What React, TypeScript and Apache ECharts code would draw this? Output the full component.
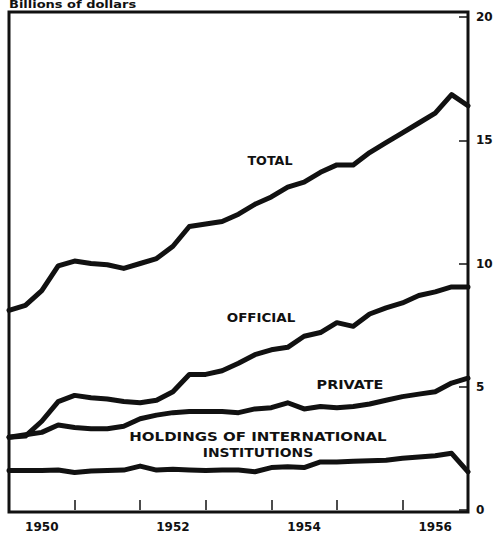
import React, { useEffect, useRef } from "react";
import * as echarts from "echarts";

// Quarter-end dates (years), end of 1949 through end of 1956
const quarters = [
  1950, 1950.25, 1950.5, 1950.75, 1951, 1951.25, 1951.5, 1951.75,
  1952, 1952.25, 1952.5, 1952.75, 1953, 1953.25, 1953.5, 1953.75,
  1954, 1954.25, 1954.5, 1954.75, 1955, 1955.25, 1955.5, 1955.75,
  1956, 1956.25, 1956.5, 1956.75, 1957,
];

// Billions of dollars
const total = [
  8.1, 8.3, 8.9, 9.9, 10.1, 10.0, 9.95, 9.8, 10.0, 10.2, 10.7, 11.5, 11.6, 11.7,
  12.0, 12.4, 12.7, 13.1, 13.3, 13.7, 14.0, 14.0, 14.5, 14.9, 15.3, 15.7, 16.1,
  16.85, 16.4,
];
const official = [
  2.95, 3.0, 3.6, 4.4, 4.65, 4.55, 4.5, 4.4, 4.35, 4.45, 4.8, 5.5, 5.5, 5.65,
  5.95, 6.3, 6.5, 6.6, 7.05, 7.2, 7.6, 7.45, 7.95, 8.2, 8.4, 8.7, 8.85, 9.05,
  9.05,
];
const privateHoldings = [
  2.95, 3.05, 3.15, 3.45, 3.35, 3.3, 3.3, 3.4, 3.7, 3.85, 3.95, 4.0, 4.0, 4.0,
  3.95, 4.1, 4.15, 4.35, 4.1, 4.2, 4.15, 4.2, 4.3, 4.45, 4.6, 4.7, 4.8, 5.15,
  5.35,
];
const international = [
  1.6, 1.6, 1.6, 1.62, 1.52, 1.58, 1.6, 1.62, 1.78, 1.62, 1.65, 1.62, 1.6, 1.62,
  1.62, 1.55, 1.72, 1.75, 1.72, 1.95, 1.95, 1.98, 2.0, 2.02, 2.1, 2.15, 2.2,
  2.3, 1.55,
];

const yearLabels = ["1950", "1952", "1954", "1956"];

const FONT = "'DejaVu Sans', 'Liberation Sans', sans-serif";

function pair(vals: number[]) {
  return vals.map((v, i) => [quarters[i], v]);
}

export default function App() {
  const ref = useRef<HTMLDivElement>(null);
  useEffect(() => {
    if (!ref.current) return;
    const chart = echarts.init(ref.current, undefined, { renderer: "svg" });
    const lineSeries = (name: string, vals: number[]) => ({
      name,
      type: "line",
      data: pair(vals),
      symbol: "none",
      xAxisIndex: 0,
      yAxisIndex: 0,
      lineStyle: { color: "#111", width: 5, cap: "round", join: "round" },
      z: 3,
    });
    const label = (text: string, x: number, y: number, sx: number) => ({
      type: "text",
      x,
      y,
      scaleX: sx,
      style: {
        text,
        fill: "#111",
        font: `bold 12px ${FONT}`,
        textAlign: "center",
        textVerticalAlign: "middle",
      },
    });
    chart.setOption({
      animation: false,
      backgroundColor: "#fff",
      grid: { left: 9, right: 30, top: 17, bottom: 23 },
      xAxis: [
        {
          type: "value",
          min: 1950,
          max: 1957,
          interval: 1,
          axisLine: { show: false },
          axisTick: { show: true, inside: true, length: 10, lineStyle: { color: "#111", width: 1.5 } },
          axisLabel: { show: false },
          splitLine: { show: false },
        },
        {
          type: "value",
          min: 1950,
          max: 1957,
          interval: 0.5,
          position: "bottom",
          axisLine: { show: false },
          axisTick: { show: false },
          splitLine: { show: false },
          axisLabel: {
            show: true,
            margin: 11,
            color: "#111",
            fontFamily: FONT,
            fontWeight: "bold",
            fontSize: 12,
            formatter: (v: number) => {
              const y = Math.floor(v);
              const lab = String(y);
              return Math.abs(v - y - 0.5) < 1e-6 && yearLabels.includes(lab) ? lab : "";
            },
          },
        },
      ],
      yAxis: {
        type: "value",
        position: "right",
        min: 0,
        max: 20,
        interval: 5,
        axisLine: { show: false },
        axisTick: { show: true, inside: true, length: 9, lineStyle: { color: "#111", width: 1.5 } },
        splitLine: { show: false },
        axisLabel: {
          margin: 8,
          color: "#111",
          fontFamily: FONT,
          fontWeight: "bold",
          fontSize: 12,
        },
      },
      series: [
        lineSeries("Total", total),
        lineSeries("Official", official),
        lineSeries("Private", privateHoldings),
        lineSeries("Holdings of international institutions", international),
      ],
      graphic: [
        {
          type: "rect",
          shape: { x: 9, y: 12, width: 459, height: 500 },
          style: { fill: "none", stroke: "#111", lineWidth: 3 },
          z: 10,
        },
        {
          type: "text",
          x: 9,
          y: 0,
          scaleX: 1.3,
          style: { text: "Billions of dollars", fill: "#111", font: `bold 10px ${FONT}` },
        },
        label("TOTAL", 270, 161, 1.06),
        label("OFFICIAL", 261, 318, 1.12),
        label("PRIVATE", 350, 385, 1.2),
        label("HOLDINGS OF INTERNATIONAL", 258, 437, 1.25),
        label("INSTITUTIONS", 258, 453, 1.16),
      ],
    });
    return () => chart.dispose();
  }, []);
  return (
    <div
      ref={ref}
      style={{ position: "fixed", left: 0, top: 0, width: 498, height: 533 }}
    />
  );
}
